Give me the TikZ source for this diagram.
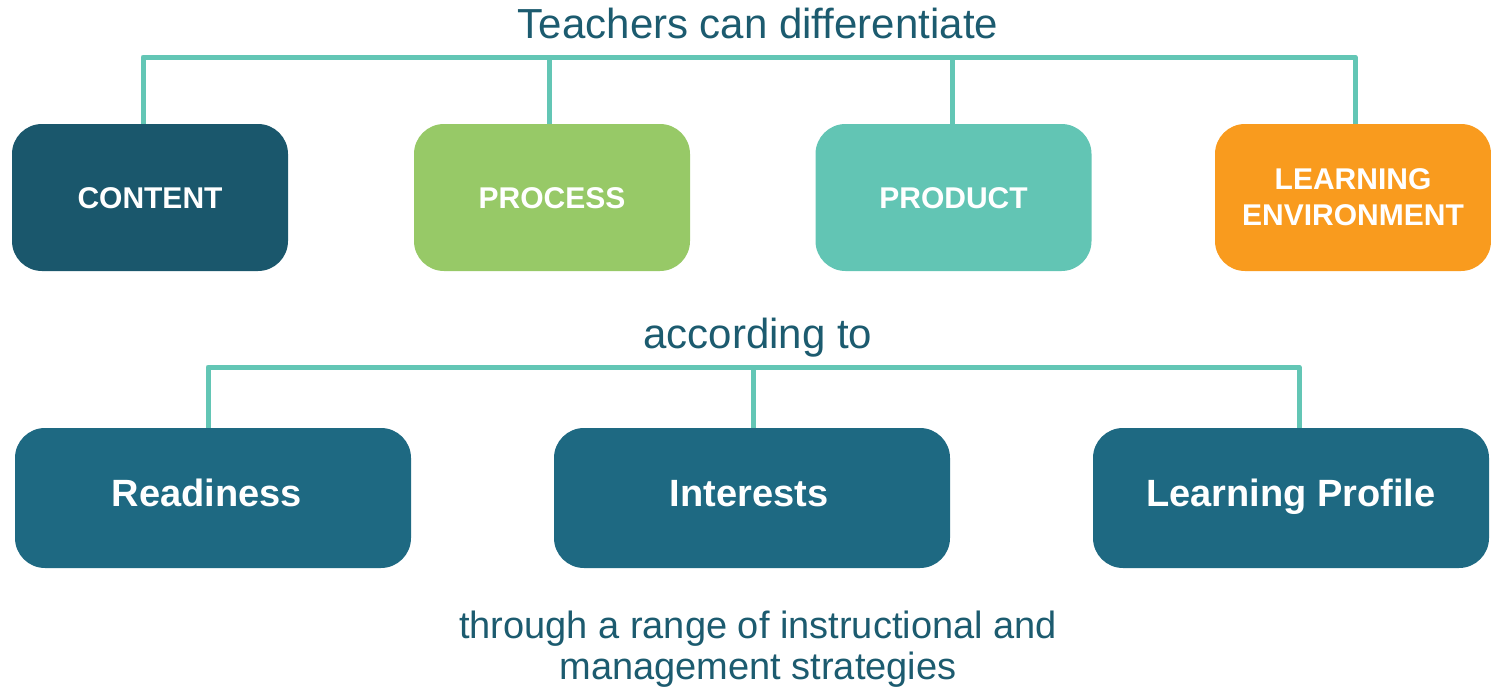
\documentclass[tikz,border=0pt]{standalone}
\usepackage{fontspec}
\setmainfont{Liberation Sans}
\definecolor{cdark}{HTML}{1A576C}
\definecolor{cgreen}{HTML}{97C967}
\definecolor{cteal}{HTML}{62C5B4}
\definecolor{corange}{HTML}{F99B1E}
\definecolor{cblue}{HTML}{1E6982}
\definecolor{ctext}{HTML}{1C5B6F}
\definecolor{cline}{HTML}{63C6B5}
\tikzset{
  topbox/.style={rounded corners=30pt, minimum width=276pt, minimum height=147pt, inner sep=0pt,
    text=white, align=center, font=\fontsize{30}{36}\selectfont\bfseries},
  lowbox/.style={fill=cblue, rounded corners=30pt, minimum width=396pt, minimum height=140pt, inner sep=0pt,
    text=white, text height=17pt, text depth=0pt, font=\fontsize{38}{44}\selectfont\bfseries},
  heading/.style={text=ctext, inner sep=0pt, align=center},
  conn/.style={draw=cline, line width=5pt}
}
\begin{document}
\begin{tikzpicture}[x=1pt,y=-1pt]
\useasboundingbox (0,0) rectangle (1491,688);
% headings
\node[heading, anchor=base, font=\fontsize{42}{48}\selectfont] (title) at (758,38) {Teachers can differentiate};
\node[heading, anchor=base, font=\fontsize{42}{48}\selectfont] (acc) at (758,348) {according to};
\node[heading, anchor=north, font=\fontsize{38}{41}\selectfont] (thru) at (758,611) {through a range of instructional and\\management strategies};
% top boxes
\node[topbox, fill=cdark, text height=21.5pt, text depth=0pt] (content) at (150,197.5) {CONTENT};
\node[topbox, fill=cgreen, text height=21.5pt, text depth=0pt] (process) at (552,197.5) {PROCESS};
\node[topbox, fill=cteal, text height=21.5pt, text depth=0pt] (product) at (953.5,197.5) {PRODUCT};
\node[topbox, fill=corange] (env) at (1353,197.5) {LEARNING\\ENVIRONMENT};
% lower boxes
\node[lowbox] (ready) at (213,498) {\hspace*{-12pt}Readiness};
\node[lowbox] (inter) at (752,498) {\hspace*{-6pt}Interests};
\node[lowbox] (profile) at (1291,498) {Learning Profile};
% top connectors
\coordinate (a1) at (143,57);
\coordinate (a2) at (549,57);
\coordinate (a3) at (952,57);
\coordinate (a4) at (1355,57);
\draw[conn, line join=round] (content.north -| a1) -- (a1) -- (a4) -- (env.north -| a4);
\draw[conn] (a2) -- (process.north -| a2);
\draw[conn] (a3) -- (product.north -| a3);
% lower connectors
\coordinate (b1) at (208,367);
\coordinate (b2) at (753,367);
\coordinate (b3) at (1299,367);
\draw[conn, line join=round] (ready.north -| b1) -- (b1) -- (b3) -- (profile.north -| b3);
\draw[conn] (b2) -- (inter.north -| b2);
\end{tikzpicture}
\end{document}
